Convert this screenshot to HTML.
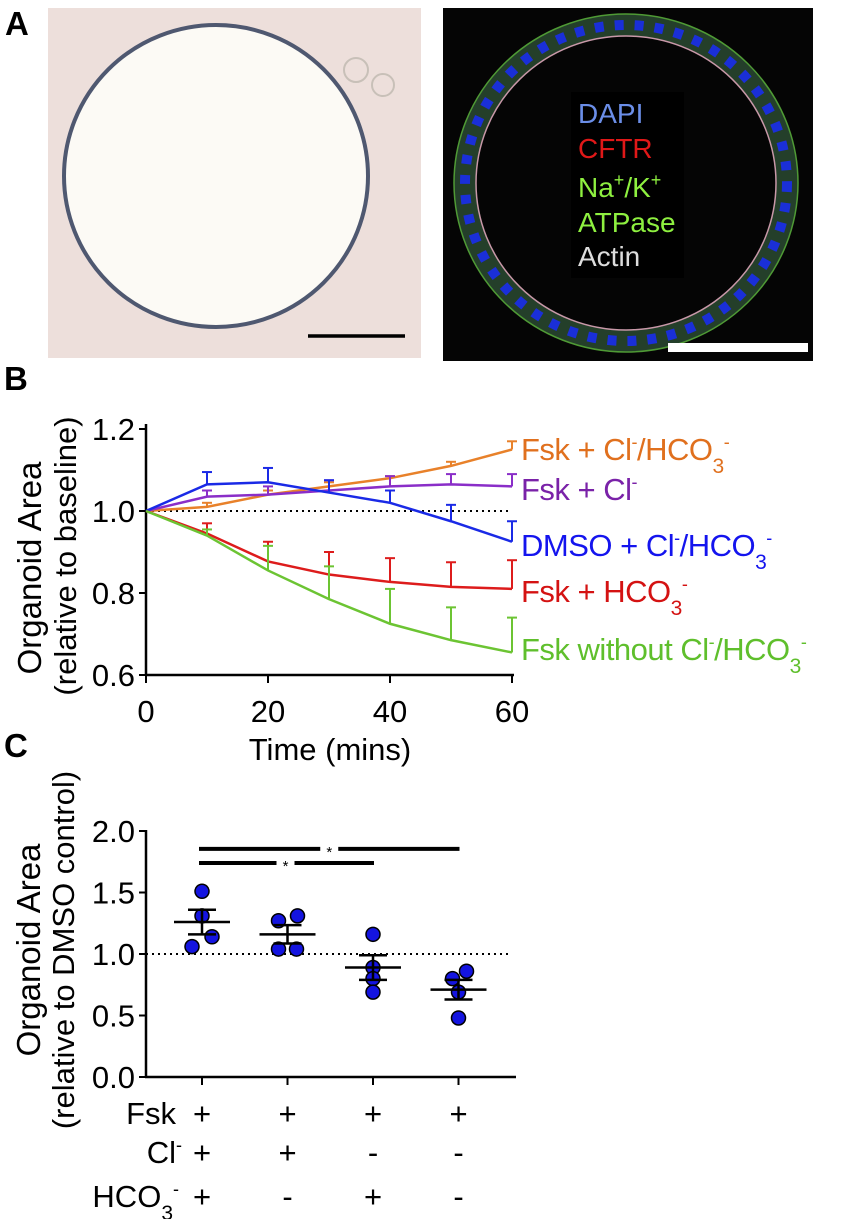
<!DOCTYPE html>
<html><head><meta charset="utf-8"><style>
body{margin:0;background:#fff;width:852px;height:1219px;overflow:hidden;font-family:"Liberation Sans",sans-serif}
svg{display:block}
</style></head><body>
<svg width="852" height="1219" viewBox="0 0 852 1219" font-family="Liberation Sans, sans-serif">
<defs>
<radialGradient id="bf" cx="45%" cy="48%" r="65%"><stop offset="0" stop-color="#fdfbf6"/><stop offset="0.5" stop-color="#f6efe8"/><stop offset="1" stop-color="#e8d8d6"/></radialGradient>
</defs>
<!-- Panel A -->
<text x="5" y="35" font-size="33" font-weight="bold">A</text>
<g>
<rect x="48" y="8" width="373" height="350" fill="#eddfdb"/>
<ellipse cx="216" cy="176" rx="152" ry="151" fill="#fcfaf5" stroke="#4f5870" stroke-width="4"/>
<circle cx="356" cy="70" r="12" fill="none" stroke="#c8c0b8" stroke-width="2"/>
<circle cx="383" cy="85" r="11" fill="none" stroke="#c8c0b8" stroke-width="2"/>
<line x1="308" y1="336" x2="405" y2="336" stroke="#000" stroke-width="3.5"/>
</g>
<g>
<rect x="443" y="8" width="370" height="353" fill="#050505"/>
<ellipse cx="626" cy="183" rx="161" ry="158" fill="none" stroke="#243f2a" stroke-width="22"/>
<ellipse cx="626" cy="183" rx="161" ry="158" fill="none" stroke="#1a2fd8" stroke-width="10" stroke-dasharray="9 11"/>
<ellipse cx="626" cy="183" rx="150" ry="147" fill="none" stroke="#c898a8" stroke-width="1.5"/>
<ellipse cx="626" cy="183" rx="172" ry="169" fill="none" stroke="#4f9a35" stroke-width="1.5"/>
<rect x="571" y="92" width="113" height="186" fill="#000"/>
<text x="578" y="123" font-size="28" fill="#6b8ee8">DAPI</text>
<text x="578" y="158" font-size="28" fill="#e01818">CFTR</text>
<text x="578" y="197" font-size="28" fill="#8ef040">Na<tspan dy="-11" font-size="18">+</tspan><tspan dy="11">/K</tspan><tspan dy="-11" font-size="18">+</tspan></text>
<text x="578" y="232" font-size="28" fill="#8ef040">ATPase</text>
<text x="578" y="266" font-size="28" fill="#ddd">Actin</text>
<rect x="668" y="343" width="140" height="9" fill="#fff"/>
</g>
<!-- Panel B -->
<text x="4" y="390" font-size="33" font-weight="bold">B</text>
<g id="chartB"></g>
<!-- Panel C -->
<text x="4" y="757" font-size="33" font-weight="bold">C</text>
<g id="chartC"></g>
</svg>
<script>
const times=[0,10,20,30,40,50,60];
const bTicks=[0.6,0.8,1.0,1.2];
const xTicks=[0,20,40,60];
const orangeMean=[1.0,1.01,1.04,1.06,1.08,1.11,1.15];
const orangeErr=[1.0,1.02,1.05,1.07,1.085,1.12,1.17];
const purpleMean=[1.0,1.035,1.04,1.05,1.06,1.065,1.06];
const purpleErr=[1.0,1.05,1.06,1.075,1.085,1.09,1.09];
const blueMean=[1.0,1.065,1.07,1.045,1.02,0.975,0.925];
const blueErr=[1.0,1.095,1.105,1.075,1.05,1.015,0.975];
const redMean=[1.0,0.945,0.877,0.845,0.827,0.815,0.81];
const redErr=[1.0,0.97,0.925,0.9,0.885,0.875,0.88];
const greenMean=[1.0,0.94,0.855,0.785,0.725,0.685,0.655];
const greenErr=[1.0,0.955,0.915,0.865,0.81,0.765,0.74];
const catsC=["g1","g2","g3","g4"];
const ptsC=[[1.51,1.31,1.14,1.06],[1.27,1.31,1.04,1.04],[1.16,0.89,0.80,0.69],[0.80,0.86,0.69,0.48]];
const meanC=[1.26,1.16,0.89,0.71];
const semC=[0.10,0.075,0.10,0.08];
const cTicks=[0.0,0.5,1.0,1.5,2.0];
const fskRow=["+","+","+","+"];
const clRow=["+","+","-","-"];
const hcoRow=["+","-","+","-"];
const sigBars=[[0,3,1.855],[0,2,1.74]];
const NS="http://www.w3.org/2000/svg";
function mk(p,t,a,txt){const e=document.createElementNS(NS,t);for(const k in a)e.setAttribute(k,a[k]);if(txt!==undefined)e.textContent=txt;p.appendChild(e);return e;}
const FS=31;
// Chart B
const gB=document.getElementById('chartB');
const bx=v=>146+(v/60)*366, by=v=>511-(v-1.0)/0.2*82;
let e=mk(gB,'line',{x1:146,y1:424,x2:146,y2:676,stroke:'#000','stroke-width':2.5});

e=mk(gB,'line',{x1:145,y1:675,x2:514,y2:675,stroke:'#000','stroke-width':2.5});

bTicks.forEach(t=>{mk(gB,'line',{x1:139,y1:by(t),x2:146,y2:by(t),stroke:'#000','stroke-width':2});
e=mk(gB,'text',{x:135,y:by(t)+11,'font-size':FS,'text-anchor':'end'},t.toFixed(1));
});
xTicks.forEach(t=>{mk(gB,'line',{x1:bx(t),y1:675,x2:bx(t),y2:683,stroke:'#000','stroke-width':2});
e=mk(gB,'text',{x:bx(t),y:722,'font-size':FS,'text-anchor':'middle'},String(t));
});
e=mk(gB,'text',{x:330,y:760,'font-size':FS,'text-anchor':'middle'},'Time (mins)');

e=mk(gB,'text',{transform:'translate(41,568) rotate(-90)','font-size':33,'text-anchor':'middle'},'Organoid Area');

e=mk(gB,'text',{transform:'translate(76,556) rotate(-90)','font-size':31,'text-anchor':'middle'},'(relative to baseline)');

e=mk(gB,'line',{x1:146,y1:by(1),x2:512,y2:by(1),stroke:'#000','stroke-width':2,'stroke-dasharray':'2 4'});

const series=[[orangeMean,orangeErr,'#e8812a','orange'],[purpleMean,purpleErr,'#8a2ec8','purple'],[blueMean,blueErr,'#1a2ae6','blue'],[redMean,redErr,'#dd1c1c','red'],[greenMean,greenErr,'#6cc433','green']];
series.forEach(([m,er,c,n])=>{
 const g=mk(gB,'g',{});
 times.forEach((t,i)=>{if(i==0)return;mk(g,'line',{x1:bx(t),y1:by(m[i]),x2:bx(t),y2:by(er[i]),stroke:c,'stroke-width':2});mk(g,'line',{x1:bx(t)-5,y1:by(er[i]),x2:bx(t)+5,y2:by(er[i]),stroke:c,'stroke-width':2});});
 mk(g,'polyline',{points:times.map((t,i)=>bx(t)+','+by(m[i])).join(' '),fill:'none',stroke:c,'stroke-width':2.5});
});
const SUP='<tspan dy="-12" font-size="18">-</tspan>';
const SUB3='<tspan dy="13" font-size="21">3</tspan><tspan dy="-25" font-size="18">-</tspan>';
const labs=[[460,'#e0701e','Fsk + Cl'+SUP+'<tspan dy="12">/HCO</tspan>'+SUB3,'label-fsk-cl-hco3'],
[500,'#7a22a8','Fsk + Cl'+SUP,'label-fsk-cl'],
[556,'#1414ee','DMSO + Cl'+SUP+'<tspan dy="12">/HCO</tspan>'+SUB3,'label-dmso'],
[602,'#d41212','Fsk + HCO'+SUB3,'label-fsk-hco3'],
[660,'#5fbf2c','Fsk without Cl'+SUP+'<tspan dy="12">/HCO</tspan>'+SUB3,'label-fsk-none']];
labs.forEach(([y,c,h,n])=>{e=mk(gB,'text',{x:521,y:y,'font-size':31,fill:c,'letter-spacing':'-0.5'});e.innerHTML=h;});
// Chart C
const gC=document.getElementById('chartC');
const cx=i=>202+i*85.5, cy=v=>1077-v/0.5*61.5;
e=mk(gC,'line',{x1:146,y1:830,x2:146,y2:1078,stroke:'#000','stroke-width':2.5});

e=mk(gC,'line',{x1:145,y1:1077,x2:516,y2:1077,stroke:'#000','stroke-width':2.5});

cTicks.forEach(t=>{mk(gC,'line',{x1:139,y1:cy(t),x2:146,y2:cy(t),stroke:'#000','stroke-width':2});
e=mk(gC,'text',{x:135,y:cy(t)+11,'font-size':FS,'text-anchor':'end'},t.toFixed(1));
});
e=mk(gC,'text',{transform:'translate(40,950) rotate(-90)','font-size':33,'text-anchor':'middle'},'Organoid Area');

e=mk(gC,'text',{transform:'translate(74,950) rotate(-90)','font-size':31,'text-anchor':'middle'},'(relative to DMSO control)');

e=mk(gC,'line',{x1:146,y1:cy(1),x2:510,y2:cy(1),stroke:'#000','stroke-width':2,'stroke-dasharray':'2 4'});

const jit=[[0,0,10,-10],[-9,10,-9,9],[0,0,0,0],[-6,8,0,0]];
catsC.forEach((c,i)=>{
 mk(gC,'line',{x1:cx(i),y1:1077,x2:cx(i),y2:1085,stroke:'#000','stroke-width':2});
 const g=mk(gC,'g',{});
 ptsC[i].forEach((v,j)=>{const p=mk(g,'circle',{cx:cx(i)+jit[i][j],cy:cy(v),r:7,fill:'#1414e0',stroke:'#000','stroke-width':1.5});
  });
 mk(g,'line',{x1:cx(i)-28,y1:cy(meanC[i]),x2:cx(i)+28,y2:cy(meanC[i]),stroke:'#000','stroke-width':2.5});
 [meanC[i]+semC[i],meanC[i]-semC[i]].forEach(v=>mk(g,'line',{x1:cx(i)-14,y1:cy(v),x2:cx(i)+14,y2:cy(v),stroke:'#000','stroke-width':2.5}));
 mk(g,'line',{x1:cx(i),y1:cy(meanC[i]-semC[i]),x2:cx(i),y2:cy(meanC[i]+semC[i]),stroke:'#000','stroke-width':2.5});
 [[fskRow,1124],[clRow,1163],[hcoRow,1207]].forEach(([r,y])=>{e=mk(gC,'text',{x:cx(i),y:y,'font-size':FS,'text-anchor':'middle'},r[i]);
  });
});
sigBars.forEach(([a,b,v])=>{const m=(cx(a)+cx(b))/2+(b==3?-1:-2);
 mk(gC,'line',{x1:cx(a)-3,y1:cy(v),x2:m-9,y2:cy(v),stroke:'#000','stroke-width':4});
 mk(gC,'line',{x1:m+9,y1:cy(v),x2:cx(b)+1,y2:cy(v),stroke:'#000','stroke-width':4});
 e=mk(gC,'text',{x:m,y:cy(v)+8,'font-size':15,'text-anchor':'middle'},'*');
 });
[['Fsk',1124,''],['Cl',1163,'<tspan dy="-12" font-size="18">-</tspan>'],['HCO',1207,'<tspan dy="13" font-size="21">3</tspan><tspan dy="-25" font-size="18">-</tspan>']].forEach(([t,y,s])=>{
 e=mk(gC,'text',{x:t=='Fsk'?176:(t=='Cl'?182:179),y:y,'font-size':FS,'text-anchor':'end'});e.innerHTML=t+s;
 });
</script>
</body></html>
